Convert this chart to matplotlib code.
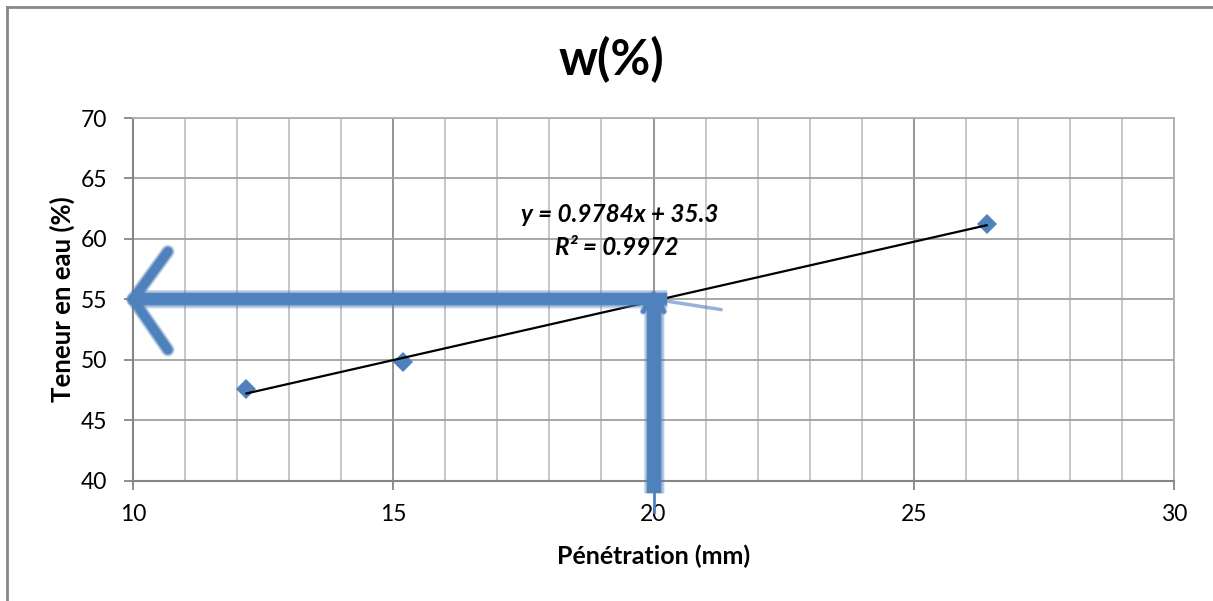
import matplotlib
matplotlib.use("Agg")
import matplotlib.pyplot as plt
from matplotlib.lines import Line2D
import numpy as np

# ---- data ----
penetration = [12.18, 15.18, 26.40]
water_content = [47.6, 49.83, 61.24]
slope = 0.9784
intercept = 35.3
eq_text = "y = 0.9784x + 35.3"
r2_text = "R² = 0.9972"
title = "w(%)"
xlabel = "Pénétration (mm)"
ylabel = "Teneur en eau (%)"
x_ticks = [10, 15, 20, 25, 30]
y_ticks = [40, 45, 50, 55, 60, 65, 70]
target_w = 55
target_pen = 20

BLUE = "#4f81bd"
plt.rcParams['font.family'] = ['Lato', 'DejaVu Sans']

W, H = 1213, 601
fig = plt.figure(figsize=(W / 100, H / 100), dpi=100)
ax = fig.add_axes([133 / W, (H - 480.7) / H, 1041 / W, 362.7 / H])
ax.set_xlim(10, 30)
ax.set_ylim(40, 70)

# grid
ax.set_xticks(x_ticks)
ax.set_xticks(np.arange(10, 31, 1), minor=True)
ax.set_yticks(y_ticks)
ax.grid(which='minor', axis='x', color='#c3c3c3', lw=1.3)
ax.grid(which='major', axis='x', color='#8c8c8c', lw=1.3)
ax.grid(which='major', axis='y', color='#a0a0a0', lw=1.3)
ax.set_axisbelow(True)
for s in ['top', 'right']:
    ax.spines[s].set_color('#b0b0b0')
    ax.spines[s].set_linewidth(1.3)
for s in ['left', 'bottom']:
    ax.spines[s].set_color('#868686')
    ax.spines[s].set_linewidth(1.5)
ax.tick_params(which='major', direction='out', length=6.5, width=1.3, color='#868686',
               labelsize=16.5)
ax.tick_params(which='minor', length=0)
ax.tick_params(axis='x', pad=10)
ax.tick_params(axis='y', pad=12)

# data points
ax.plot(penetration, water_content, linestyle='none', marker='D', markersize=10,
        color=BLUE, markeredgewidth=0, zorder=3)
# trendline
xs = np.array([min(penetration), max(penetration)])
ax.plot(xs, slope * xs + intercept, color='black', lw=1.6, zorder=4)

ax.text(19.36, 62.0, eq_text, ha='center', va='center', fontsize=17.5,
        fontweight='bold', fontstyle='italic', zorder=6)
ax.text(19.30, 59.28, r2_text, ha='center', va='center', fontsize=17.5,
        fontweight='bold', fontstyle='italic', zorder=6)


def blurry(xd, yd, core, cap='butt', steps=6, spread=5.0):
    for i in range(steps, 0, -1):
        w = core + spread * i / steps
        ax.plot(xd, yd, color=BLUE, lw=w, alpha=0.16, solid_capstyle=cap,
                clip_on=False, zorder=5)
    ax.plot(xd, yd, color=BLUE, lw=core, solid_capstyle=cap, clip_on=False, zorder=5)


# horizontal arrow towards y axis
blurry([10.0, 20.26], [target_w, target_w], 8.5)
blurry([10.0, 10.67], [target_w, 58.95], 6.5, cap='round', spread=3.5)
blurry([10.0, 10.67], [target_w, 50.83], 6.5, cap='round', spread=3.5)
# streak to the right
ax.plot([20.26, 21.3], [54.85, 54.15], color=BLUE, lw=2.5, alpha=0.6,
        solid_capstyle='round', zorder=5)
# vertical arrow downwards
blurry([target_pen, target_pen], [55.3, 38.99], 10.0, spread=5.0)
ax.plot([target_pen, target_pen], [38.99, 37.4], color=BLUE, lw=2, clip_on=False, zorder=5)
blurry([target_pen, 19.8], [55.4, 54.0], 3.0, cap='round', spread=2)
blurry([target_pen, 20.2], [55.4, 54.0], 3.0, cap='round', spread=2)

ax.set_xlabel(xlabel, fontsize=18, fontweight='bold', labelpad=14)
ax.set_ylabel(ylabel, fontsize=18.5, fontweight='bold', labelpad=4)

fig.text(611 / W, 1 - 60 / H, title, ha='center', va='center', fontsize=35,
         fontweight='bold')

# outer chart frame
fig.add_artist(Line2D([7 / W, 7 / W], [0, 1 - 7 / H], color='#878787', lw=2,
                      transform=fig.transFigure))
fig.add_artist(Line2D([7 / W, 1], [1 - 7 / H, 1 - 7 / H], color='#878787', lw=2,
                      transform=fig.transFigure))

fig.savefig('out.png', dpi=100, facecolor='white')
